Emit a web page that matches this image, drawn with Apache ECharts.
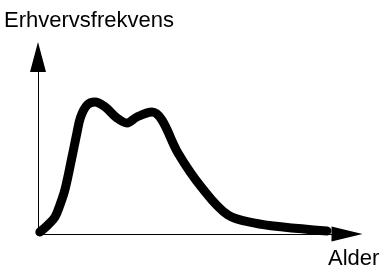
<!DOCTYPE html>
<html>
<head>
<meta charset="utf-8">
<script src="https://cdn.jsdelivr.net/npm/echarts@6/dist/echarts.min.js"></script>
<style>html,body{margin:0;padding:0;background:#fff}#c{width:382px;height:271px}</style>
</head>
<body>
<div id="c"></div>
<script>
// Data (arbitrary units; no ticks shown in the reference)
const ageValues = [0.6, 3.2, 5.5, 7.1, 8.7, 11.0, 12.6, 13.8, 15.9, 18.4, 21.7, 25.6, 28.8, 32.0, 36.9, 40.1, 45.3, 53.1, 61.5, 70.2, 79.3, 93.5];
const rateValues = [1.1, 5.1, 9.6, 16.4, 24.9, 43.5, 57.1, 66.1, 72.9, 74.6, 71.8, 65.5, 62.7, 66.1, 68.9, 64.4, 45.8, 26.0, 10.7, 6.2, 4.0, 1.7];
const yLabel = 'Erhvervsfrekvens';
const xLabel = 'Alder';

const seriesData = ageValues.map((a, i) => [a, rateValues[i]]);
const font = 'Liberation Sans, Arial, Helvetica, sans-serif';

const chart = echarts.init(document.getElementById('c'), null, {renderer: 'canvas'});
chart.setOption({
  animation: false,
  backgroundColor: '#fff',
  title: [
    {text: yLabel, left: 4, top: 10, padding: 0,
     textStyle: {fontSize: 22, fontWeight: 'normal', color: '#000', fontFamily: font}},
    {text: xLabel, left: 328, top: 248, padding: 0,
     textStyle: {fontSize: 22, fontWeight: 'normal', color: '#000', fontFamily: font}}
  ],
  grid: {left: 38, top: 57, right: 35, bottom: 37, containLabel: false},
  xAxis: {
    type: 'value', min: 0, max: 100,
    axisLine: {show: true, onZero: false, symbol: ['none', 'triangle'], symbolSize: [15, 31],
               lineStyle: {color: '#000', width: 1}},
    axisTick: {show: false}, axisLabel: {show: false}, splitLine: {show: false}
  },
  yAxis: {
    type: 'value', min: 0, max: 100,
    axisLine: {show: true, onZero: false, symbol: ['none', 'triangle'], symbolSize: [16, 30],
               lineStyle: {color: '#000', width: 1}},
    axisTick: {show: false}, axisLabel: {show: false}, splitLine: {show: false}
  },
  series: [{
    type: 'line',
    data: seriesData,
    smooth: 0.35,
    showSymbol: false,
    lineStyle: {color: '#000', width: 9, cap: 'round', join: 'round'}
  }]
});
</script>
</body>
</html>
